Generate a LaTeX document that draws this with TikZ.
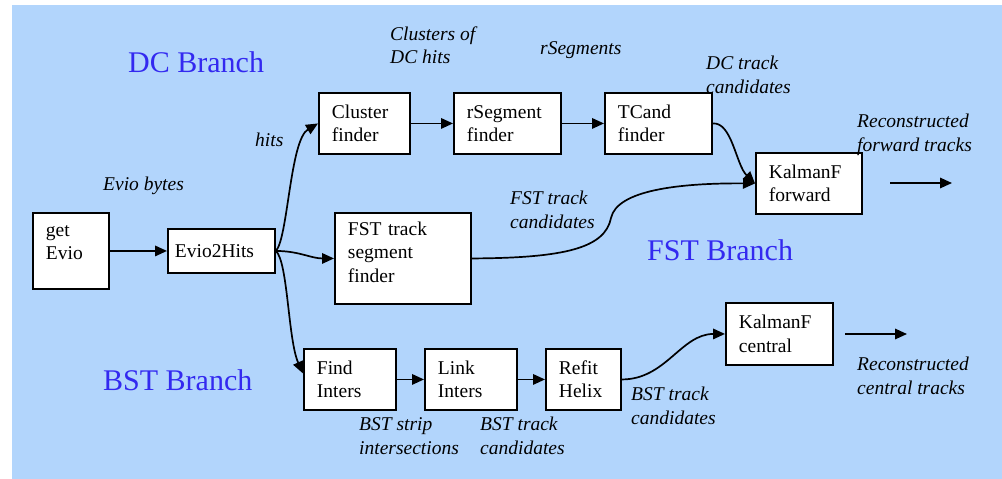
\documentclass[tikz,border=0pt]{standalone}
\usepackage{fontspec}
\setmainfont{Liberation Serif}
\usetikzlibrary{arrows.meta}
\definecolor{panelblue}{RGB}{178,213,252}
\definecolor{branchblue}{RGB}{51,41,240}

\begin{document}
\begin{tikzpicture}[x=1pt,y=-1pt]
    \tikzstyle{every node}=[font=\fontsize{19.5}{23.5}\selectfont]
    \tikzstyle{stage}=[draw, line width=1.9pt, fill=white, align=left, anchor=north west, inner xsep=13pt, inner ysep=0pt]
    \tikzstyle{note}=[anchor=west, align=left, inner sep=0pt, font=\fontsize{19.5}{23.5}\selectfont\itshape]
    \tikzstyle{branch}=[anchor=west, inner sep=0pt, text=branchblue, font=\fontsize{30}{36}\selectfont]
    \tikzstyle{flow}=[line width=1.7pt, -{Triangle[length=12pt,width=10.5pt]}]

    \useasboundingbox (0,0) rectangle (1002,479);
    \fill[panelblue] (12,5) rectangle (1002,479);

    % stages, placed by their top left corner
    \node[stage, text width=50pt, minimum height=76pt] (getevio) at (32,212) {get\\Evio\\[-14pt]\strut};
    \node[stage, inner xsep=7pt, text width=93pt, minimum height=44pt] (evio2hits) at (167,228) {Evio2Hits};
    \node[stage, text width=65pt, minimum height=61pt] (clusterfinder) at (318,92) {Cluster\\finder};
    \node[stage, text width=81pt, minimum height=61pt] (rsegfinder) at (453,92) {rSegment\\finder};
    \node[stage, text width=81pt, minimum height=61pt] (tcandfinder) at (604,92) {TCand\\finder};
    \node[stage, text width=80pt, minimum height=61pt] (kalmanfwd) at (755,152) {KalmanF\\forward};
    \node[stage, text width=110pt, minimum height=91pt] (fstfinder) at (334,212) {FST track\\segment\\finder\\[-18pt]\strut};
    \node[stage, text width=66pt, minimum height=61pt] (findinters) at (303,348) {Find\\Inters};
    \node[stage, text width=66pt, minimum height=61pt] (linkinters) at (424,348) {Link\\Inters};
    \node[stage, text width=49pt, minimum height=61pt] (refithelix) at (545,348) {Refit\\Helix};
    \node[stage, text width=81pt, minimum height=62pt] (kalmancen) at (725,302) {KalmanF\\central};

    % branch titles
    \node[branch] (dcbranch) at (128,62) {DC Branch};
    \node[branch] (fstbranch) at (647,250) {FST Branch};
    \node[branch] (bstbranch) at (103,380) {BST Branch};

    % data passed between the stages
    \node[note] (evionote) at (103,186) {Evio bytes};
    \node[note] (hitsnote) at (255,140) {hits};
    \node[note] (clusnote) at (390,45) {Clusters of\\DC hits};
    \node[note] (rsegnote) at (540,50) {rSegments};
    \node[note] (dctrknote) at (706,75) {DC track\\candidates};
    \node[note] (fwdnote) at (857,135) {Reconstructed\\forward tracks};
    \node[note] (fsttrknote) at (510,210) {FST track\\candidates};
    \node[note] (stripnote) at (359,436) {BST strip\\intersections};
    \node[note] (bsttrknote) at (480,436) {BST track\\candidates};
    \node[note] (helixnote) at (631,406) {BST track\\candidates};
    \node[note] (cennote) at (857,376) {Reconstructed\\central tracks};

    \coordinate (fwdout) at (890,183);
    \coordinate (fwdend) at (952,183);
    \coordinate (cenout) at (845,334);
    \coordinate (cenend) at (907,334);

    % flow
    \draw[flow] (getevio.east) -- (evio2hits.west);
    \draw[flow] (evio2hits.east) .. controls (288,238) and (290,140) .. (clusterfinder.west);
    \draw[flow] (evio2hits.east) to[out=0, in=180] (fstfinder.west);
    \draw[flow] (evio2hits.east) .. controls (288,262) and (288,340) .. ([yshift=6pt]findinters.west);
    \draw[flow] (clusterfinder) -- (rsegfinder);
    \draw[flow] (rsegfinder) -- (tcandfinder);
    \draw[flow] (tcandfinder.east) .. controls (732,122) and (736,165) .. (kalmanfwd.west);
    \draw[flow] (fstfinder.east) .. controls (565,258) and (605,248) .. (611,218)
        .. controls (617,190) and (680,183) .. (kalmanfwd.west);
    \draw[flow] (findinters) -- (linkinters);
    \draw[flow] (linkinters) -- (refithelix);
    \draw[flow] (refithelix.east) to[out=0, in=180] (kalmancen.west);
    \draw[flow] (fwdout) -- (fwdend);
    \draw[flow] (cenout) -- (cenend);
\end{tikzpicture}
\end{document}
